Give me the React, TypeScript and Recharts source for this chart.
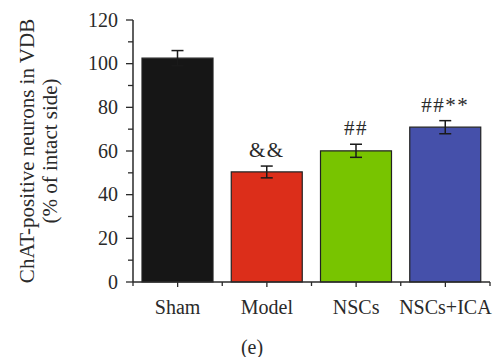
import { Bar, BarChart, Cell, ErrorBar, LabelList, XAxis, YAxis } from "recharts";

const groups = ["Sham", "Model", "NSCs", "NSCs+ICA"];
const means = [102.5, 50.4, 60.1, 70.9];
const errors = [3.5, 2.7, 3.0, 3.0];
const marks = ["", "&&", "##", "##**"];
const colors = ["#161616", "#dc2e1a", "#78c400", "#4550aa"];
const yTicks = [0, 10, 20, 30, 40, 50, 60, 70, 80, 90, 100, 110, 120];

const data = groups.map((g, i) => ({
  group: g,
  mean: means[i],
  err: errors[i],
  mark: marks[i],
}));

const FONT = "'Liberation Serif', 'Times New Roman', serif";
const INK = "#2a2a2a";

function YTick(props: any) {
  const { x, y, payload } = props;
  const major = payload.value % 20 === 0;
  return (
    <g>
      <line x1={x - (major ? 7 : 5)} x2={x} y1={y} y2={y} stroke={INK} strokeWidth={1.3} />
      {major && (
        <text x={x - 15} y={y} dy="0.34em" textAnchor="end" fontFamily={FONT} fontSize={20} fill={INK}>
          {payload.value}
        </text>
      )}
    </g>
  );
}

function XTick(props: any) {
  const { x, y, payload, index, width, visibleTicksCount } = props;
  const bw = (width ?? 357) / (visibleTicksCount ?? 4);
  return (
    <g>
      <line x1={x} x2={x} y1={y} y2={y + 5} stroke={INK} strokeWidth={1.3} />
      <line x1={x + bw / 2} x2={x + bw / 2} y1={y} y2={y + 4} stroke={INK} strokeWidth={1.3} />
      {index === 0 && (
        <line x1={x - bw / 2} x2={x - bw / 2} y1={y} y2={y + 4} stroke={INK} strokeWidth={1.3} />
      )}
      <text x={x} y={y + 32} textAnchor="middle" fontFamily={FONT} fontSize={20} fill={INK}>
        {payload.value}
      </text>
    </g>
  );
}

function MarkLabel(props: any) {
  const { x, y, width, height, index } = props;
  const txt = marks[index];
  if (!txt) return null;
  const perUnit = height / means[index];
  const top = y - errors[index] * perUnit;
  return (
    <text
      x={x + width / 2}
      y={top - 9}
      textAnchor="middle"
      fontFamily={FONT}
      fontSize={21}
      letterSpacing={1.5}
      fill={INK}
    >
      {txt}
    </text>
  );
}

function YLabel(props: any) {
  const vb = props.viewBox || {};
  const cy = (vb.y ?? 20) + (vb.height ?? 262) / 2;
  return (
    <g fontFamily={FONT} fontSize={21} fill={INK}>
      <text x={34} y={cy} textAnchor="middle" transform={`rotate(-90 34 ${cy})`}>
        ChAT-positive neurons in VDB
      </text>
      <text x={57} y={cy} textAnchor="middle" transform={`rotate(-90 57 ${cy})`}>
        (% of intact side)
      </text>
    </g>
  );
}

export default function App() {
  return (
    <div style={{ position: "absolute", left: 0, top: 0, width: 493, height: 357, background: "#fff" }}>
      <BarChart
        width={493}
        height={357}
        data={data}
        margin={{ top: 20, right: 3, bottom: 35, left: 60 }}
        barCategoryGap={9}
      >
        <YAxis
          width={73}
          domain={[0, 120]}
          ticks={yTicks}
          interval={0}
          tickSize={0}
          tickMargin={0}
          tickLine={false}
          tick={<YTick />}
          axisLine={{ stroke: INK, strokeWidth: 1.5 }}
          label={{ content: <YLabel /> }}
        />
        <XAxis
          dataKey="group"
          height={40}
          tickSize={0}
          tickMargin={0}
          tickLine={false}
          tick={<XTick />}
          interval={0}
          axisLine={{ stroke: INK, strokeWidth: 1.5 }}
        />
        <Bar dataKey="mean" stroke="#222" strokeWidth={1.2} isAnimationActive={false}>
          {data.map((d, i) => (
            <Cell key={d.group} fill={colors[i]} />
          ))}
          <ErrorBar dataKey="err" width={6} stroke="#1a1a1a" strokeWidth={1.5} direction="y" />
          <LabelList dataKey="mark" content={<MarkLabel />} />
        </Bar>
      </BarChart>
      <div
        style={{
          position: "absolute",
          left: 0,
          width: 504,
          top: 336,
          textAlign: "center",
          fontFamily: FONT,
          fontSize: 20,
          color: INK,
        }}
      >
        (e)
      </div>
    </div>
  );
}
